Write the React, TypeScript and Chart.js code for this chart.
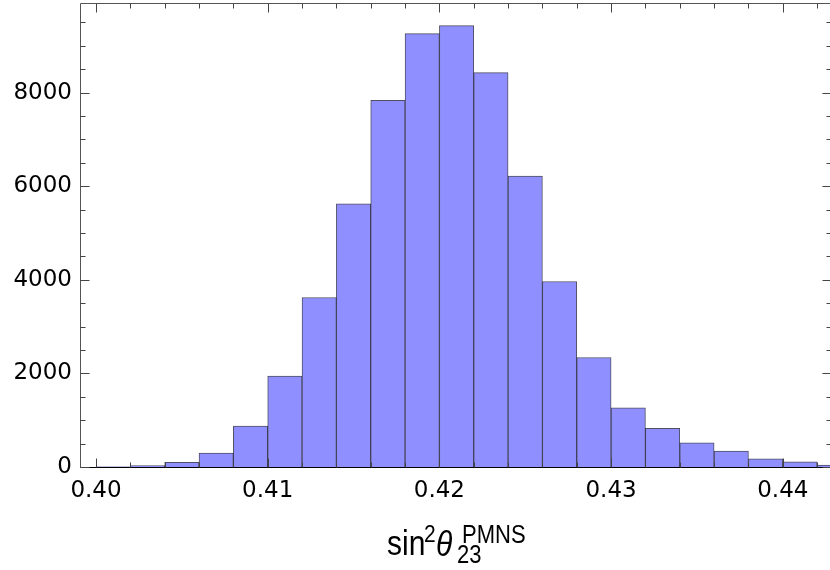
import React, { useEffect, useRef } from "react";
import { Chart, registerables } from "chart.js";

Chart.register(...registerables);

// Histogram bins (centers, width 0.002) and counts
const binCenters = [
  0.401, 0.403, 0.405, 0.407, 0.409, 0.411, 0.413, 0.415, 0.417, 0.419, 0.421,
  0.423, 0.425, 0.427, 0.429, 0.431, 0.433, 0.435, 0.437, 0.439, 0.441, 0.443,
];
const counts = [
  4, 30, 98, 299, 875, 1943, 3622, 5623, 7837, 9259, 9430,
  8427, 6214, 3963, 2340, 1266, 824, 519, 342, 177, 113, 43,
];

const xTickValues = [0.4, 0.41, 0.42, 0.43, 0.44];
const xTickLabels = ["0.40", "0.41", "0.42", "0.43", "0.44"];
const yTickValues = [0, 2000, 4000, 6000, 8000];
const yTickLabels = ["0", "2000", "4000", "6000", "8000"];
const xMinorStep = 0.002;
const yMinorStep = 500;
const xMin = 0.399068;
const xMax = 0.442866;
const yMin = 0;
const yMax = 9915;

const framePlugin = {
  id: "framePlugin",
  afterDraw(chart: any) {
    const { ctx, chartArea: a, scales } = chart;
    const xs = scales.x;
    const ys = scales.y;
    ctx.save();
    ctx.lineWidth = 1;
    const L = Math.round(a.left) + 0.5;
    const R = Math.round(a.right) - 0.5;
    const T = Math.round(a.top) + 0.5;
    const B = Math.round(a.bottom) + 0.5;
    // frame
    ctx.strokeStyle = "#555";
    ctx.beginPath();
    ctx.moveTo(L, B);
    ctx.lineTo(L, T);
    ctx.lineTo(R, T);
    ctx.lineTo(R, B);
    ctx.stroke();
    ctx.strokeStyle = "#000";
    ctx.beginPath();
    ctx.moveTo(L, B);
    ctx.lineTo(R, B);
    ctx.stroke();
    // x ticks
    ctx.strokeStyle = "#444";
    const nx = Math.round((0.442 - 0.4) / xMinorStep);
    for (let i = 0; i <= nx; i++) {
      const v = 0.4 + i * xMinorStep;
      const px = Math.round(xs.getPixelForValue(v)) + 0.5;
      const len = i % 5 === 0 ? 9 : 5;
      ctx.beginPath();
      ctx.moveTo(px, B);
      ctx.lineTo(px, B - len);
      ctx.moveTo(px, T);
      ctx.lineTo(px, T + len);
      ctx.stroke();
    }
    // y ticks
    const ny = Math.floor(yMax / yMinorStep);
    for (let i = 0; i <= ny; i++) {
      const v = i * yMinorStep;
      const py = Math.round(ys.getPixelForValue(v)) + 0.5;
      const len = i % 4 === 0 ? 9 : 5;
      ctx.beginPath();
      ctx.moveTo(L, py);
      ctx.lineTo(L + len, py);
      ctx.moveTo(R, py);
      ctx.lineTo(R - len, py);
      ctx.stroke();
    }
    // axis title: sin^2 θ_23^PMNS
    const cx = (a.left + a.right) / 2;
    ctx.fillStyle = "#000";
    ctx.textBaseline = "alphabetic";
    ctx.textAlign = "left";
    const drawStretched = (text: string, x: number, y: number, font: string) => {
      ctx.save();
      ctx.translate(x, y);
      ctx.scale(1, 1.18);
      ctx.font = font;
      ctx.fillText(text, 0, 0);
      ctx.restore();
    };
    drawStretched("sin", cx - 69, 555, "30px 'Liberation Sans'");
    drawStretched("2", cx - 32, 542, "21px 'Liberation Sans'");
    drawStretched("\u03B8", cx - 20, 556, "italic 30px 'Liberation Sans'");
    drawStretched("23", cx + 1, 563, "22px 'Liberation Sans'");
    drawStretched("PMNS", cx + 6, 543, "22px 'Liberation Sans'");
    ctx.restore();
  },
};

export default function App() {
  const ref = useRef<HTMLCanvasElement | null>(null);
  useEffect(() => {
    if (!ref.current) return;
    const chart = new Chart(ref.current, {
      type: "bar",
      data: {
        datasets: [
          {
            data: binCenters.map((x, i) => ({ x, y: counts[i] })),
            backgroundColor: "#8f8fff",
            borderColor: "rgba(20,20,50,0.75)",
            borderWidth: 1,
            barPercentage: 1,
            categoryPercentage: 1,
            grouped: false,
          } as any,
        ],
      },
      options: {
        responsive: false,
        animation: false,
        layout: { padding: { top: 3, right: 8, left: 0, bottom: 0 } },
        plugins: { legend: { display: false }, tooltip: { enabled: false } },
        scales: {
          x: {
            type: "linear",
            min: xMin,
            max: xMax,
            offset: false,
            grid: { display: false, drawTicks: false },
            border: { display: false },
            ticks: {
              autoSkip: false,
              maxRotation: 0,
              padding: 10,
              color: "#000",
              font: { family: "'DejaVu Sans'", size: 23 },
              callback: (_v: any, i: number) => xTickLabels[i],
            },
            afterBuildTicks: (s: any) => {
              s.ticks = xTickValues.map((v) => ({ value: v }));
            },
            afterFit: (s: any) => {
              s.height = 103;
              s.paddingLeft = 0;
              s.paddingRight = 0;
            },
          },
          y: {
            type: "linear",
            min: yMin,
            max: yMax,
            grid: { display: false, drawTicks: false },
            border: { display: false },
            ticks: {
              padding: 8,
              color: "#000",
              font: { family: "'DejaVu Sans'", size: 23 },
              callback: (_v: any, i: number) => yTickLabels[i],
            },
            afterBuildTicks: (s: any) => {
              s.ticks = yTickValues.map((v) => ({ value: v }));
            },
            afterFit: (s: any) => {
              s.width = 80;
              s.paddingTop = 0;
              s.paddingBottom = 0;
            },
          },
        },
      } as any,
      plugins: [framePlugin],
    });
    return () => chart.destroy();
  }, []);
  return (
    <div
      style={{
        position: "fixed",
        left: 0,
        top: 0,
        width: 830,
        height: 570,
        overflow: "hidden",
        background: "#fff",
      }}
    >
      <canvas ref={ref} width={840} height={570} style={{ display: "block" }} />
    </div>
  );
}
